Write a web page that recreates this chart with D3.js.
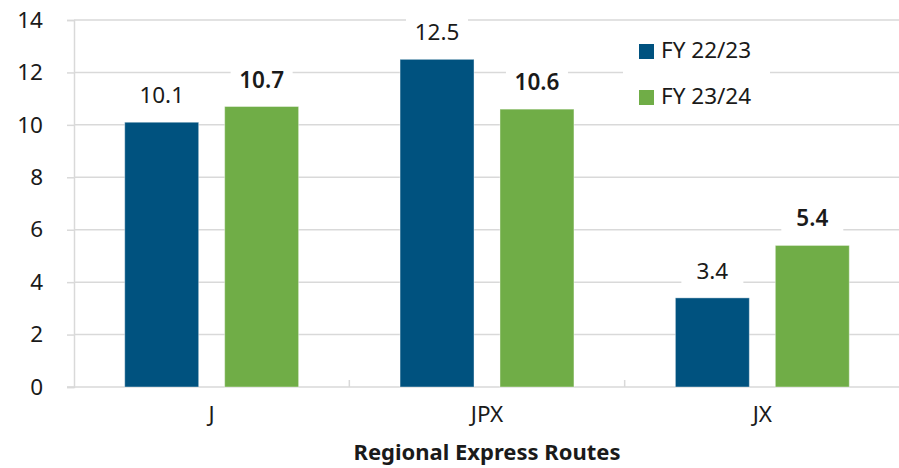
<!DOCTYPE html>
<html>
<head>
<meta charset="utf-8">
<script src="https://cdn.jsdelivr.net/npm/d3@7"></script>
<style>
  body { margin: 0; background: #fff; }
  text { font-family: "Noto Sans", "Open Sans", sans-serif; fill: #1a1a1a; }
</style>
</head>
<body>
<div id="chart"></div>
<script>
// chart data
let routes = ["J", "JPX", "JX"];
let seriesNames = ["FY 22/23", "FY 23/24"];
let fy2223 = [10.1, 12.5, 3.4];
let fy2324 = [10.7, 10.6, 5.4];
let yTicks = [0, 2, 4, 6, 8, 10, 12, 14];

let svgWidth = 899;
let svgHeight = 468;
let margin = { top: 20, right: -1, bottom: 81, left: 74 };
let chartWidth = svgWidth - margin.left - margin.right;
let chartHeight = svgHeight - margin.top - margin.bottom;

let fontSize = "22.5px";
let colors = { "FY 22/23": "#00527f", "FY 23/24": "#70ad47" };

let svg = d3.select("#chart").append("svg")
  .attr("width", svgWidth)
  .attr("height", svgHeight);

let chartGroup = svg.append("g")
  .attr("transform", `translate(${margin.left}, ${margin.top})`);

// build rows from the arrays
let rows = routes.map((r, i) => ({
  route: r,
  values: [
    { key: seriesNames[0], value: fy2223[i] },
    { key: seriesNames[1], value: fy2324[i] }
  ]
}));

let x0 = d3.scaleBand().domain(routes).range([0, chartWidth]).padding(0);
let x1 = d3.scaleBand().domain(seriesNames).range([0, x0.bandwidth()])
  .paddingInner(0.26).paddingOuter(0.5075);
let y = d3.scaleLinear().domain([0, 14]).range([chartHeight, 0]);

// gridlines
chartGroup.append("g").selectAll("line")
  .data(yTicks.filter(d => d > 0))
  .enter().append("line")
  .attr("x1", 0).attr("x2", chartWidth)
  .attr("y1", d => y(d)).attr("y2", d => y(d))
  .attr("stroke", "#d9d9d9").attr("stroke-width", 1.5);

// y axis
let yAxis = d3.axisLeft(y).tickValues(yTicks).tickSize(7).tickPadding(24);
let yAxisG = chartGroup.append("g").call(yAxis);
yAxisG.select(".domain").attr("stroke", "#d9d9d9").attr("stroke-width", 1.5);
yAxisG.selectAll(".tick line").attr("stroke", "#d9d9d9").attr("stroke-width", 1.5);
yAxisG.selectAll("text").attr("font-size", fontSize).style("fill", "#1a1a1a")
  .style("font-family", "'Noto Sans', sans-serif");

// x axis
let xAxisG = chartGroup.append("g").attr("transform", `translate(0, ${chartHeight})`);
xAxisG.append("line")
  .attr("x1", -7).attr("x2", chartWidth)
  .attr("stroke", "#d9d9d9").attr("stroke-width", 1.5);
xAxisG.selectAll(".sep")
  .data(routes.slice(1))
  .enter().append("line")
  .attr("x1", d => x0(d)).attr("x2", d => x0(d))
  .attr("y1", -7).attr("y2", 0)
  .attr("stroke", "#d9d9d9").attr("stroke-width", 1.5);
xAxisG.selectAll(".cat")
  .data(routes)
  .enter().append("text")
  .attr("x", d => x0(d) + x0.bandwidth() / 2)
  .attr("y", 35)
  .attr("text-anchor", "middle")
  .attr("font-size", fontSize)
  .text(d => d);

// axis title
chartGroup.append("text")
  .attr("x", chartWidth / 2)
  .attr("y", chartHeight + 73)
  .attr("text-anchor", "middle")
  .attr("font-size", "22px")
  .attr("font-weight", "bold")
  .text("Regional Express Routes");

// bars
let groups = chartGroup.selectAll(".route")
  .data(rows)
  .enter().append("g")
  .attr("transform", d => `translate(${x0(d.route)}, 0)`);

groups.selectAll("rect")
  .data(d => d.values)
  .enter().append("rect")
  .attr("x", d => x1(d.key))
  .attr("y", d => y(d.value))
  .attr("width", x1.bandwidth())
  .attr("height", d => chartHeight - y(d.value))
  .attr("fill", d => colors[d.key])
  .attr("stroke", "#ffffff")
  .attr("stroke-opacity", 0.4)
  .attr("stroke-width", 1);

// value labels with white boxes
let labels = groups.selectAll(".lbl")
  .data(d => d.values)
  .enter().append("g")
  .attr("transform", d => `translate(${x1(d.key) + x1.bandwidth() / 2}, ${y(d.value) - 19})`);

labels.append("rect")
  .attr("x", -31).attr("y", -26)
  .attr("width", 62).attr("height", 37)
  .attr("fill", "#fff");

labels.append("text")
  .attr("text-anchor", "middle")
  .attr("font-size", fontSize)
  .attr("font-weight", d => d.key === seriesNames[1] ? 600 : 400)
  .text(d => d.value.toFixed(1));

// legend
let legend = chartGroup.append("g").attr("transform", "translate(549, 0)");
legend.append("rect")
  .attr("x", 0).attr("y", 14).attr("width", 147).attr("height", 90)
  .attr("fill", "#fff");

let legendItems = legend.selectAll(".item")
  .data(seriesNames)
  .enter().append("g")
  .attr("transform", (d, i) => `translate(16, ${24 + i * 46})`);

legendItems.append("rect")
  .attr("width", 15).attr("height", 15)
  .attr("fill", d => colors[d]);

legendItems.append("text")
  .attr("x", 22).attr("y", 14)
  .attr("font-size", fontSize)
  .text(d => d);
</script>
</body>
</html>
